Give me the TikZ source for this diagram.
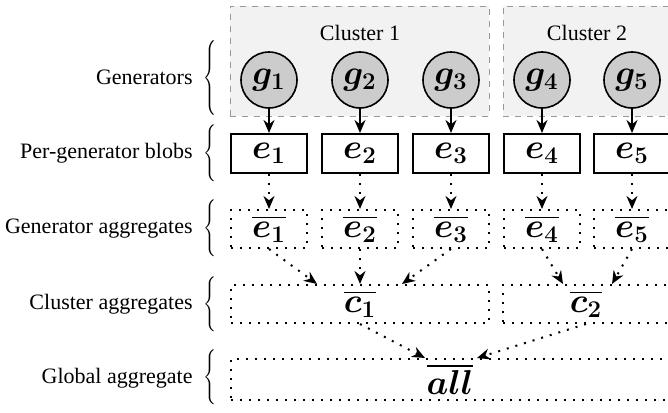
\documentclass[tikz,border=0pt]{standalone}
\usepackage{amsmath}
\usepackage{graphicx}
\usepackage[no-math]{fontspec}
\setmainfont{Liberation Serif}
\DeclareMathSizes{17.28}{17.28}{11.5}{8}
\usetikzlibrary{arrows.meta,calc}
\newcommand\mfont{\fontsize{17.28}{20}\selectfont}
\newcommand\mybrace[1]{\resizebox*{6.5pt}{#1}{$\Bigg\{$}}
\begin{document}
\begin{tikzpicture}[x=0.5pt,y=-0.5pt,
  gen/.style={circle, draw, thick, fill=gray!40, minimum size=28pt, inner sep=0pt, font=\mfont},
  blob/.style={draw, line width=1pt, minimum width=38pt, minimum height=19.5pt, inner sep=0pt, font=\mfont},
  dotline/.style={line width=1pt, dash pattern=on 1pt off 3.5pt},
  agg/.style={draw, dotline, minimum height=19pt, inner sep=0pt, font=\mfont},
  solidarrow/.style={-{Stealth[length=6.5pt,width=5.5pt]}, line width=0.9pt},
  dotarrow/.style={solidarrow, dotline},
  clusterbox/.style={draw=gray!80, dashed, fill=gray!10, inner sep=0pt, minimum height=55pt},
  lbl/.style={anchor=east, inner sep=0pt, font=\rmfamily\fontsize{11}{13}\selectfont},
  clbl/.style={inner sep=0pt, font=\rmfamily\fontsize{11}{13}\selectfont},
  brc/.style={inner sep=0pt}]
\useasboundingbox (0,0) rectangle (668,412);
% cluster backgrounds
\node[clusterbox, minimum width=129.5pt] (cl1) at (359.5,61) {};
\node[clusterbox, minimum width=89pt] (cl2) at (592,61) {};
\node[clbl] (cl1t) at (360,33) {Cluster 1};
\node[clbl] (cl2t) at (587,33) {Cluster 2};
% generators
\foreach \i/\x in {1/269,2/360,3/451,4/542,5/632}{
  \node[gen] (g\i) at (\x,80) {$\boldsymbol{g_{\i}}$};
  \node[blob] (e\i) at (\x,153.5) {$\boldsymbol{e_{\i}}$};
  \node[agg, minimum width=38pt] (eb\i) at (\x,229) {$\overline{\boldsymbol{e_{\i}}}$};
  \draw[solidarrow] (g\i) -- (e\i);
  \draw[dotarrow] (e\i) -- (eb\i);
}
\node[agg, minimum width=129pt] (c1) at (360,304) {$\overline{\boldsymbol{c_{1}}}$};
\node[agg, minimum width=83pt] (c2) at (586,304) {$\overline{\boldsymbol{c_{2}}}$};
\node[agg, minimum width=219pt, minimum height=20.5pt] (all) at (450,379.5) {$\overline{\boldsymbol{all}}$};
\coordinate (c1a) at ($(c1.north)+(-43,0)$);
\coordinate (c1c) at ($(c1.north)+(42,0)$);
\coordinate (c2a) at ($(c2.north)+(-23,0)$);
\coordinate (c2b) at ($(c2.north)+(26,0)$);
\coordinate (alla) at ($(all.north)+(-25,0)$);
\coordinate (allb) at ($(all.north)+(27,0)$);
\draw[dotarrow] (eb1.south) -- (c1a);
\draw[dotarrow] (eb2.south) -- (c1.north);
\draw[dotarrow] (eb3.south) -- (c1c);
\draw[dotarrow] (eb4.south) -- (c2a);
\draw[dotarrow] (eb5.south) -- (c2b);
\draw[dotarrow] (c1.south) -- (alla);
\draw[dotarrow] (c2.south) -- (allb);
% row labels
\node[lbl] (l1) at (193,77) {Generators};
\node[lbl] (l2) at (193,153) {Per-generator blobs};
\node[lbl] (l3) at (193,229) {Generator aggregates};
\node[lbl] (l4) at (193,304) {Cluster aggregates};
\node[lbl] (l5) at (193,378) {Global aggregate};
\node[brc] (b1) at (210,77.5) {\mybrace{37.5pt}};
\node[brc] (b2) at (210,153.5) {\mybrace{28.5pt}};
\node[brc] (b3) at (210,228.5) {\mybrace{28.5pt}};
\node[brc] (b4) at (210,304.5) {\mybrace{27.5pt}};
\node[brc] (b5) at (210,377.5) {\mybrace{27.5pt}};
\end{tikzpicture}
\end{document}
